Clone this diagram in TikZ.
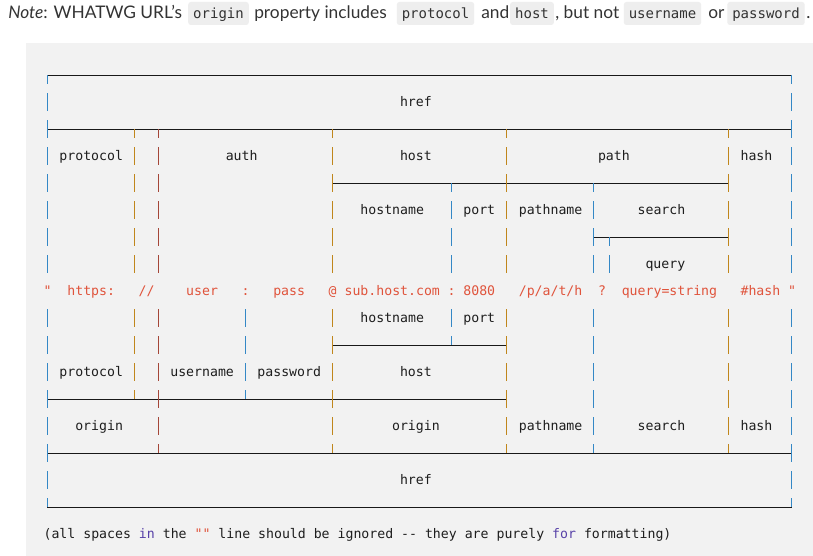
\documentclass[tikz,border=0pt]{standalone}
\usepackage{fontspec}
\setmainfont{Lato}
\setmonofont{DejaVu Sans Mono}
\definecolor{panelgray}{RGB}{242,242,242}
\definecolor{codegray}{RGB}{238,238,238}
\definecolor{noteink}{RGB}{51,51,51}
\definecolor{labelink}{RGB}{30,30,30}
\definecolor{stringred}{RGB}{224,84,60}
\definecolor{kwpurple}{RGB}{88,66,168}
\definecolor{ruleblack}{RGB}{25,25,25}
\definecolor{barblue}{RGB}{52,136,198}
\definecolor{barorange}{RGB}{192,134,28}
\definecolor{barred}{RGB}{164,70,56}
\tikzset{
  rule/.style={draw=ruleblack, line width=0.75pt},
  bar/.style={line width=0.95pt},
  lbl/.style={anchor=base west, inner sep=0pt, xshift=-2.97pt, yshift=-3pt,
    text=labelink, font=\ttfamily\fontsize{9.9}{12}\selectfont},
  urlpart/.style={lbl, text=stringred},
  prose/.style={anchor=base west, inner sep=0pt, text=noteink,
    font=\fontsize{13}{16}\selectfont},
  code/.style={anchor=base, fill=codegray, rounded corners=2pt, inner xsep=3.75pt,
    inner ysep=3.25pt, text height=9.5pt, text depth=1.25pt, text=noteink,
    font=\ttfamily\fontsize{10.5}{12}\selectfont},
}
\begin{document}
\begin{tikzpicture}[x=0.75pt, y=-0.75pt]
    \useasboundingbox (0,0) rectangle (813,556);
    \fill[white] (0,0) rectangle (813,556);
    \fill[panelgray] (26,43) rectangle (813,556);
    \node[prose] (note-lead) at (8,19) {\textit{Note}: WHATWG URL's};
    \node[code] (code-origin) at (218.5,19) {origin};
    \node[prose] (note-prop) at (254,19) {property includes};
    \node[code] (code-protocol) at (435.5,19) {protocol};
    \node[prose] (note-and) at (481,19) {and};
    \node[code] (code-host) at (532,19) {host};
    \node[prose] (note-but) at (555,19) {, but not};
    \node[code] (code-username) at (662.5,19) {username};
    \node[prose] (note-or) at (708,19) {or};
    \node[code] (code-password) at (766,19) {password};
    \node[prose] (note-end) at (806,19) {.};
    \begin{scope}[shift={(47.3,75.3)}, x=5.94pt, y=-20.25pt]
        \foreach \r/\a/\b in {0/0/94, 2/0/94, 4/36/86, 6/69/86, 10/36/58, 12/0/58, 14/0/94, 16/0/94}
            \draw[rule] (\a,\r) -- (\b,\r);
        \foreach \c/\k/\rows in {0/barblue/{1,2,3,4,5,6,7,9,10,11,12,13,14,15},
                                 94/barblue/{1,2,3,4,5,6,7,9,10,11,12,13,14,15},
                                 11/barorange/{3,4,5,6,7,9,10,11},
                                 14/barred/{3,4,5,6,7,9,10,11,12,13},
                                 25/barblue/{9,10,11},
                                 36/barorange/{3,4,5,6,7,9,10,11,12,13},
                                 51/barblue/{5,6,7,9},
                                 58/barorange/{3,4,5,6,7,9,10,11,12,13},
                                 69/barblue/{5,6,7,9,10,11,12,13},
                                 71/barblue/{7},
                                 86/barorange/{3,4,5,6,7,9,10,11,12,13}}
            \foreach \r in \rows
                \draw[bar, draw=\k] (\c,{\r-.33}) -- (\c,{\r+.31});
        \foreach \c/\r/\k in {0/0/barblue, 94/0/barblue, 11/2/barorange, 14/2/barred,
                              36/2/barorange, 58/2/barorange, 86/2/barorange,
                              51/4/barblue, 69/4/barblue, 71/6/barblue}
            \draw[bar, draw=\k] (\c,\r) -- (\c,{\r+.31});
        \foreach \c/\r/\k in {0/16/barblue, 94/16/barblue, 11/12/barorange, 25/12/barblue,
                              14/14/barred, 36/14/barorange, 58/14/barorange,
                              69/14/barblue, 86/14/barorange, 51/10/barblue}
            \draw[bar, draw=\k] (\c,{\r-.33}) -- (\c,\r);
        \node[lbl] (href-top) at (45,1) {href};
        \node[lbl] (protocol-top) at (2,3) {protocol};
        \node[lbl] (auth) at (23,3) {auth};
        \node[lbl] (host-top) at (45,3) {host};
        \node[lbl] (path) at (70,3) {path};
        \node[lbl] (hash-top) at (88,3) {hash};
        \node[lbl] (hostname-top) at (40,5) {hostname};
        \node[lbl] (port-top) at (53,5) {port};
        \node[lbl] (pathname-top) at (60,5) {pathname};
        \node[lbl] (search-top) at (75,5) {search};
        \node[lbl] (query) at (76,7) {query};
        \foreach \c/\t [count=\i] in {0/", 3/https:, 12/{//}, 18/user, 25/:, 29/pass, 36/@,
                                      38/sub.host.com, 51/:, 53/8080, 60/{/p/a/t/h}, 70/?,
                                      73/query=string, 88/\#hash, 94/"}
            \node[urlpart] (part\i) at (\c,8) {\t};
        \node[lbl] (hostname-bot) at (40,9) {hostname};
        \node[lbl] (port-bot) at (53,9) {port};
        \node[lbl] (protocol-bot) at (2,11) {protocol};
        \node[lbl] (username) at (16,11) {username};
        \node[lbl] (password) at (27,11) {password};
        \node[lbl] (host-bot) at (45,11) {host};
        \node[lbl] (origin-left) at (4,13) {origin};
        \node[lbl] (origin-mid) at (44,13) {origin};
        \node[lbl] (pathname-bot) at (60,13) {pathname};
        \node[lbl] (search-bot) at (75,13) {search};
        \node[lbl] (hash-bot) at (88,13) {hash};
        \node[lbl] (href-bot) at (45,15) {href};
        \node[lbl] (footnote) at (0,17) {(all spaces \textcolor{kwpurple}{in} the \textcolor{stringred}{""} line should be ignored -- they are purely \textcolor{kwpurple}{for} formatting)};
    \end{scope}
\end{tikzpicture}
\end{document}
